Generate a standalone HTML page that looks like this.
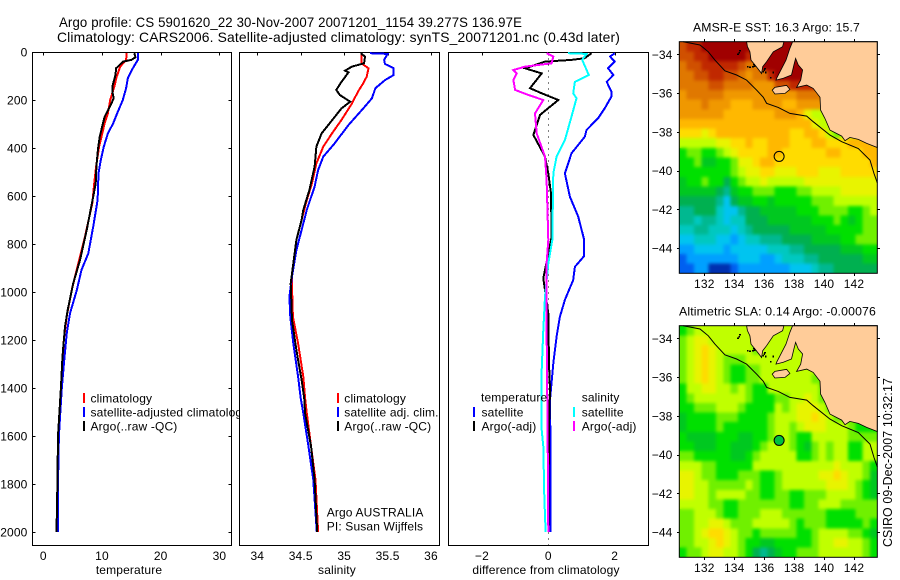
<!DOCTYPE html>
<html>
<head>
<meta charset="utf-8">
<title>Argo profile</title>
<style>
html,body{margin:0;padding:0;background:#fff;width:900px;height:580px;overflow:hidden}
svg{display:block;font-family:"Liberation Sans",sans-serif;font-size:12px;fill:#000;letter-spacing:0.15px}
.prof{fill:none;stroke-width:2;shape-rendering:crispEdges;stroke-linejoin:miter}
.cr{shape-rendering:crispEdges}
</style>
</head>
<body>
<svg id="fig" xmlns="http://www.w3.org/2000/svg" width="900" height="580" viewBox="0 0 900 580">
<defs>
<filter id="soften" x="-5%" y="-5%" width="110%" height="110%" color-interpolation-filters="sRGB">
<feGaussianBlur in="SourceGraphic" stdDeviation="1.6" result="b"/>
<feMerge><feMergeNode in="SourceGraphic"/><feMergeNode in="b"/></feMerge>
</filter>
</defs>
<rect x="0" y="0" width="900" height="580" fill="#fff"/>
<text x="59" y="27" font-size="14" textLength="463" lengthAdjust="spacingAndGlyphs">Argo profile: CS 5901620_22 30-Nov-2007 20071201_1154 39.277S 136.97E</text>
<text x="57" y="42" font-size="14" textLength="563" lengthAdjust="spacingAndGlyphs">Climatology: CARS2006. Satellite-adjusted climatology: synTS_20071201.nc (0.43d later)</text>
<g id="plots"></g>
<g id="maps"></g>
<text transform="translate(892,547) rotate(-90)" font-size="13" textLength="169" lengthAdjust="spacingAndGlyphs">CSIRO 09-Dec-2007 10:32:17</text>
</svg>
<script>
// ---- profile data: [depth, value] ----
var depthTicks = [0,200,400,600,800,1000,1200,1400,1600,1800,2000];
var tempTicks = [0,10,20,30];
var salTicks = [34,34.5,35,35.5,36];
var salTickLabels = ['34','34.5','35','35.5','36'];
var diffTicks = [-2,0,2];
var diffTickLabels = ['\u22122','0','2'];

var tempClim = [[5,14.2],[33,14.1],[61,13.1],[103,12.5],[144,12.1],[200,11.4],[255,11.0],[297,10.45],[339,10.05],[394,9.5],[478,9.0],[540,8.7],[630,8.35],[769,7.1],[881,5.96],[992,4.84],[1100,4.0],[1200,3.5],[1300,3.3],[1400,3.1],[1500,2.8],[1600,2.6],[1800,2.4],[2000,2.3]];
var tempSat = [[5,16.1],[33,16.1],[68,15.25],[110,14.4],[151,14.1],[200,13.55],[249,12.7],[297,11.9],[339,11.0],[394,10.3],[450,9.8],[505,9.4],[617,9.25],[728,8.5],[839,7.67],[908,6.5],[992,5.7],[1089,4.55],[1171,4.0],[1276,3.6],[1400,3.15],[1500,2.9],[1600,2.65],[1800,2.5],[2000,2.5]];
var tempArgo = [[5,15.5],[22,15.7],[33,15.0],[40,13.6],[68,12.4],[96,12.3],[144,11.75],[165,11.75],[193,12.0],[214,11.6],[270,10.45],[353,9.6],[408,9.3],[478,9.05],[547,8.92],[603,8.5],[742,7.4],[867,6.25],[964,5.1],[1075,4.15],[1144,3.7],[1228,3.4],[1276,3.25],[1400,3.0],[1600,2.5],[1800,2.4],[2000,2.25]];

var salClim = [[5,35.2],[47,35.2],[68,35.28],[103,35.26],[130,35.22],[165,35.16],[214,35.09],[283,34.97],[339,34.86],[394,34.76],[464,34.68],[547,34.63],[617,34.57],[700,34.51],[783,34.45],[936,34.40],[978,34.40],[1103,34.41],[1214,34.47],[1353,34.53],[1442,34.55],[1505,34.57],[1644,34.62],[1783,34.67],[2000,34.70]];
var salSat = [[5,35.3],[8,35.5],[33,35.46],[50,35.47],[68,35.57],[96,35.57],[117,35.47],[151,35.36],[193,35.32],[235,35.22],[304,35.05],[381,34.89],[436,34.76],[492,34.70],[561,34.66],[658,34.57],[700,34.54],[825,34.45],[936,34.40],[1019,34.37],[1103,34.38],[1214,34.415],[1353,34.47],[1442,34.50],[1505,34.53],[1644,34.59],[1783,34.645],[2000,34.685]];
var salArgo = [[5,35.19],[19,35.24],[47,35.23],[61,35.09],[78,35.01],[85,35.05],[124,34.97],[158,34.91],[179,34.95],[207,35.07],[235,34.97],[276,34.88],[339,34.74],[394,34.68],[478,34.66],[575,34.6],[658,34.53],[700,34.51],[783,34.45],[964,34.385],[1117,34.40],[1242,34.45],[1367,34.51],[1442,34.54],[1505,34.55],[1644,34.62],[1783,34.66],[2000,34.69]];

var diffTempSat = [[5,2.0],[19,1.86],[40,2.0],[68,1.8],[96,1.96],[124,1.76],[165,1.9],[186,1.9],[235,1.7],[276,1.5],[325,1.15],[353,1.1],[422,0.7],[506,0.5],[603,0.65],[686,0.9],[783,1.08],[850,1.08],[895,0.8],[950,0.75],[1033,0.5],[1103,0.35],[1186,0.25],[1297,0.15],[1450,0.05],[1575,0.06],[2000,0.06]];
var diffTempArgo = [[5,1.3],[26,1.1],[33,0.7],[40,-0.1],[68,-0.7],[89,-0.2],[151,-0.55],[172,-0.2],[200,0.3],[262,-0.25],[346,-0.45],[436,-0.1],[506,0],[589,0.08],[769,0.1],[783,0.08],[943,-0.15],[1089,0],[1297,0.02],[1408,0.05],[1575,0.02],[2000,0]];
var diffSalSat = [[5,0.6],[8,1.15],[33,1.02],[96,1.22],[124,0.8],[172,0.75],[193,0.85],[269,0.7],[367,0.5],[436,0.25],[506,0.15],[783,0.12],[881,0],[1020,-0.1],[1159,-0.15],[1325,-0.2],[1575,-0.2],[1644,-0.15],[1853,-0.12],[2000,-0.08]];
var diffSalArgo = [[5,-0.05],[19,0.15],[47,0.1],[61,-0.7],[75,-1.05],[89,-0.95],[117,-1.05],[158,-1.0],[179,-0.6],[200,-0.15],[256,-0.4],[339,-0.35],[436,-0.1],[533,-0.05],[783,0],[881,-0.05],[1159,-0.05],[1575,-0.02],[2000,0]];

// ---- map data ----
var lonTicks = [132,134,136,138,140,142];
var latTicks = [-34,-36,-38,-40,-42,-44];
var floatLon = 137;
var floatLat = -39.27;

var sstLevels = [
[16,17,17,18,18,18,18,18,18,18,18,18,18,18,18,18,18,18,18,18,18,18,18,18,18,18,18],
[16,16,17,17,18,18,18,18,18,17,18,18,18,18,18,18,18,18,18,18,18,18,18,18,18,18,18],
[15,16,16,17,17,17,17,17,16,15,15,18,18,18,18,18,18,18,18,18,18,18,18,18,18,18,18],
[15,15,16,16,17,17,16,16,15,14,15,15,17,18,18,18,18,18,18,18,18,18,18,18,18,18,18],
[15,15,15,15,16,16,15,15,15,15,14,14,14,16,16,17,17,17,17,17,17,17,17,17,17,17,17],
[14,15,15,15,15,15,14,14,14,14,14,14,14,14,14,14,15,15,15,15,15,15,15,15,15,15,15],
[14,14,14,15,14,14,14,13,13,13,14,14,14,14,13,13,14,14,14,14,14,14,14,14,14,14,14],
[14,14,14,14,14,14,13,13,13,13,13,13,13,14,14,14,13,11,10,10,10,10,10,10,10,10,10],
[13,13,13,13,13,13,13,13,13,13,13,13,13,13,13,13,13,13,11,10,10,10,10,10,10,10,10],
[12,12,12,11,12,13,13,13,13,13,13,13,13,13,13,12,12,13,13,12,10,9,10,10,10,10,10],
[10,10,10,10,10,11,11,12,12,13,12,12,13,13,13,12,12,12,13,13,12,12,12,13,13,13,13],
[8,9,9,8,8,9,10,11,12,12,12,12,13,13,12,12,12,12,12,12,13,13,12,12,12,13,13],
[8,8,9,7,7,8,8,9,11,11,12,13,13,12,12,12,12,12,12,12,12,12,12,12,12,12,13],
[8,8,8,8,8,8,8,9,10,11,11,12,12,11,11,11,12,12,12,11,11,11,12,12,12,12,12],
[7,8,8,9,8,8,6,8,9,10,10,11,10,10,10,10,10,11,11,11,11,11,11,11,11,11,11],
[7,7,7,7,7,6,5,7,8,8,9,9,9,8,8,8,9,9,10,10,10,10,11,11,11,11,11],
[6,6,6,6,6,5,3,6,7,7,8,8,7,8,8,8,8,8,9,9,9,10,10,10,10,10,10],
[5,5,6,6,6,4,3,3,5,6,6,7,7,7,7,7,8,8,8,9,9,9,9,8,8,9,10],
[5,5,4,5,5,4,3,4,4,6,6,6,7,7,7,7,7,7,8,8,8,9,8,7,8,9,9],
[4,4,5,5,4,4,4,3,4,5,6,6,6,6,6,7,7,7,7,7,8,8,8,8,8,9,9],
[3,3,4,4,4,3,3,2,3,4,4,5,5,5,6,6,6,6,7,7,7,7,8,8,9,9,9],
[2,2,3,3,3,3,2,3,3,3,3,3,4,4,4,5,5,6,6,6,6,6,7,7,7,8,8],
[1,2,2,2,2,2,2,2,3,3,3,2,2,3,4,4,4,5,5,6,6,6,6,6,6,7,7],
[1,1,2,2,0,0,0,1,2,2,2,2,2,2,2,3,3,3,4,5,5,6,6,6,6,6,6]
];
var slaLevels = [
[8,9,10,10,10,10,10,10,10,10,10,10,10,10,10,10,10,10,10,10,10,10,10,10,10,10,10],
[9,10,11,11,10,10,10,10,10,10,10,10,10,10,10,10,10,10,10,10,10,10,10,10,10,10,10],
[9,10,11,12,11,10,10,10,10,10,9,10,10,10,10,10,10,10,10,10,10,10,10,10,10,10,10],
[9,10,11,12,11,10,9,9,9,10,10,10,10,10,10,10,10,10,10,10,10,10,10,10,10,10,10],
[9,10,11,12,11,10,9,8,8,9,9,10,10,10,10,10,10,10,10,10,10,10,10,10,10,10,10],
[9,10,11,12,11,10,9,8,8,9,9,10,10,10,10,10,10,10,9,9,9,9,9,9,9,9,9],
[8,10,10,11,11,10,10,9,10,9,8,8,10,10,10,10,10,10,10,9,9,9,9,9,9,9,9],
[8,9,10,10,10,10,10,10,10,9,8,8,8,9,9,10,10,11,10,9,9,9,9,9,9,9,9],
[8,8,9,9,9,10,10,10,9,8,8,8,8,10,9,10,11,11,11,10,9,9,9,9,9,9,9],
[7,8,8,8,8,9,9,9,8,8,8,8,9,10,10,10,11,11,12,11,10,9,9,9,8,8,8],
[7,8,8,8,8,9,8,8,8,8,8,8,9,10,10,9,10,11,11,11,10,10,10,9,8,8,8],
[8,7,7,7,7,8,8,8,7,7,8,8,9,10,10,9,8,8,10,10,10,10,10,9,9,9,9],
[8,8,7,7,7,8,8,7,7,7,8,9,10,10,10,9,8,7,9,10,9,10,10,8,8,10,10],
[9,9,8,8,8,8,8,7,7,8,9,10,10,10,10,10,8,8,9,10,9,10,10,8,8,10,10],
[10,10,10,9,9,8,8,8,8,8,10,10,10,10,10,10,10,10,10,10,10,11,10,10,10,9,8],
[11,11,10,9,9,8,8,8,9,9,9,8,8,9,10,10,10,10,10,11,11,12,11,10,10,9,7],
[11,11,10,10,9,9,9,9,9,10,9,8,8,9,10,10,10,10,10,10,11,11,11,10,9,8,7],
[11,11,10,10,9,10,10,10,10,9,9,8,8,9,9,8,8,9,9,9,10,10,10,10,9,8,7],
[10,10,10,10,9,9,8,8,9,9,9,9,9,9,9,8,8,9,9,10,10,10,9,9,9,9,9],
[9,9,10,10,10,9,8,8,9,9,9,10,10,10,9,9,9,9,9,9,8,8,8,8,9,9,9],
[9,9,10,10,11,11,10,9,9,9,10,10,10,10,10,9,8,9,9,9,8,8,8,8,8,9,8],
[9,9,10,11,12,12,11,10,9,9,8,9,9,9,9,9,8,8,9,10,10,10,10,9,9,8,7],
[9,9,10,10,11,12,11,10,9,8,8,7,7,8,8,8,8,8,9,10,10,11,11,10,10,9,8],
[8,9,9,10,11,11,10,10,9,8,6,5,6,7,8,8,9,9,9,10,10,10,10,10,10,9,8]
];
var landWest = [[134.83,-33.35],[134.88,-33.6],[135.05,-33.87],[135.12,-34.30],[135.45,-34.61],[135.83,-34.99],[135.90,-34.64],[136.16,-34.38],[136.61,-33.87],[137.23,-33.61],[137.32,-33.35]];
var landEast = [[137.90,-33.35],[137.72,-33.69],[137.46,-34.30],[137.17,-34.73],[136.83,-35.24],[136.79,-35.33],[137.28,-35.24],[137.83,-35.07],[137.99,-34.55],[138.10,-34.21],[138.28,-34.55],[138.57,-34.81],[138.44,-35.33],[138.17,-35.71],[138.84,-35.59],[139.28,-35.76],[139.73,-36.22],[139.77,-36.88],[140.06,-37.31],[140.40,-37.91],[141.18,-38.22],[141.40,-38.46],[141.73,-38.29],[142.29,-38.39],[142.85,-38.60],[143.56,-38.81],[143.56,-33.35]];
var kangarooIsland = [[136.54,-35.85],[136.72,-35.71],[137.50,-35.60],[137.72,-35.81],[137.39,-36.02],[136.72,-36.05]];
var isobath = [[130.60,-33.35],[131.71,-33.52],[132.27,-33.87],[132.71,-34.30],[133.38,-34.85],[134.16,-35.07],[134.83,-35.33],[135.50,-35.85],[135.94,-36.22],[136.16,-36.53],[136.94,-36.74],[137.72,-37.05],[138.84,-37.19],[139.28,-37.48],[140.40,-38.17],[141.18,-38.51],[142.29,-38.86],[143.07,-39.46],[143.34,-40.15],[143.56,-40.63]];
var islets = [[134.27,-33.87],[134.33,-33.78],[134.2,-33.95],[135.27,-34.5],[135.33,-34.56],[135.2,-34.6],[135.0,-34.62],[134.85,-34.6],[135.94,-34.78],[136.0,-34.7],[135.88,-34.85],[136.05,-34.9],[136.4,-35.16],[136.55,-34.9]];

// ---- drawing ----
var NS = 'http://www.w3.org/2000/svg';
var plots = document.getElementById('plots');
var maps = document.getElementById('maps');
var mapPalette = ['#0030b0','#0060f0','#00a0ff','#00c4f0','#00c8c0','#00b890','#00b050','#00c820','#00e000','#70f000','#c0ff00','#e8f400','#ffdc00','#ffb800','#f09800','#e07800','#d05000','#c02800','#a00000'];

function add(parent, tag, attrs, name) {
  var el = document.createElementNS(NS, tag);
  for (var k in attrs) el.setAttribute(k, attrs[k]);
  
  
  parent.appendChild(el);
  return el;
}
function label(parent, x, y, str, anchor, name) {
  var t = add(parent, 'text', {x:x, y:y, 'text-anchor':anchor||'start'}, name);
  t.textContent = str;
  return t;
}

var depthTop = 52, depthScale = 0.24;
function yDepth(d) { return depthTop + depthScale * d; }
function xTemp(v) { return 43.3 + 5.87 * v; }
function xSal(v) { return 257.3 + 86.85 * (v - 34); }
function xDiff(v) { return 548.3 + 33.2 * v; }

function drawAxes(name, left, right, xFn, ticks, tickLabels, xTitle, titleX, showDepthLabels) {
  var top = 52.5, bottom = 545.5;
  add(plots, 'rect', {x:left, y:top, width:right-left, height:bottom-top, fill:'#fff', stroke:'#000', 'stroke-width':1, 'class':'cr'}, name + '-frame');
  ticks.forEach(function (t, i) {
    var x = Math.round(xFn(t)) + 0.5;
    add(plots, 'line', {x1:x, x2:x, y1:top, y2:top+3, stroke:'#000', 'class':'cr'}, name + '-x-tick');
    label(plots, xFn(t), 560, tickLabels[i], 'middle', name + '-x-tick-label');
  });
  if (showDepthLabels) {
    depthTicks.forEach(function (d) {
      var y = Math.round(yDepth(d)) + 0.5;
      add(plots, 'line', {x1:left, x2:left+3, y1:y, y2:y, stroke:'#000', 'class':'cr'}, 'depth-tick-left');
      add(plots, 'line', {x1:right-3, x2:right, y1:y, y2:y, stroke:'#000', 'class':'cr'}, 'depth-tick-right');
      label(plots, 27.5, yDepth(d) + 4.5, String(d), 'end', 'depth-tick-label');
    });
  }
  label(plots, titleX, 574, xTitle, 'middle', name + '-x-axis-title');
}
function drawProfile(data, xFn, color, name) {
  var pts = data.map(function (p) { return xFn(p[1]).toFixed(1) + ',' + yDepth(p[0]).toFixed(1); }).join(' ');
  add(plots, 'polyline', {points:pts, stroke:color, 'class':'prof'}, name);
}
function legendEntry(markX, textX, y, color, str, name) {
  if (color) add(plots, 'rect', {x:markX, y:y-9.5, width:2, height:10, fill:color, 'class':'cr'}, name + '-marker');
  label(plots, textX, y, str, 'start', name + '-label');
}

// temperature panel
drawAxes('temperature-panel', 32.5, 231.5, xTemp, tempTicks, tempTicks.map(String), 'temperature', 129, true);
drawProfile(tempClim, xTemp, '#ff0000', 'temperature-climatology-line');
drawProfile(tempSat, xTemp, '#0000ff', 'temperature-satellite-line');
drawProfile(tempArgo, xTemp, '#000000', 'temperature-argo-line');
legendEntry(83, 90.5, 402.5, '#ff0000', 'climatology', 'temperature-legend-climatology');
legendEntry(83, 90.5, 416.5, '#0000ff', 'satellite-adjusted climatology', 'temperature-legend-satellite');
legendEntry(83, 90.5, 430.5, '#000000', 'Argo(..raw -QC)', 'temperature-legend-argo');

// salinity panel (its white frame clips the previous panel's legend)
drawAxes('salinity-panel', 239.5, 439.5, xSal, salTicks, salTickLabels, 'salinity', 337, false);
drawProfile(salClim, xSal, '#ff0000', 'salinity-climatology-line');
drawProfile(salSat, xSal, '#0000ff', 'salinity-satellite-line');
drawProfile(salArgo, xSal, '#000000', 'salinity-argo-line');
legendEntry(337, 344.3, 402.5, '#ff0000', 'climatology', 'salinity-legend-climatology');
legendEntry(337, 344.3, 416.5, '#0000ff', 'satellite adj. clim.', 'salinity-legend-satellite');
legendEntry(337, 344.3, 430.5, '#000000', 'Argo(..raw -QC)', 'salinity-legend-argo');
label(plots, 326.7, 516.7, 'Argo AUSTRALIA', 'start', 'float-operator-label');
label(plots, 326.7, 530.7, 'PI: Susan Wijffels', 'start', 'principal-investigator-label');

// difference panel
drawAxes('difference-panel', 448.5, 648.5, xDiff, diffTicks, diffTickLabels, 'difference from climatology', 546, false);
add(plots, 'line', {x1:xDiff(0), x2:xDiff(0), y1:52.5, y2:545.5, stroke:'#000', 'stroke-dasharray':'1 5', 'class':'cr'}, 'zero-reference-line');
drawProfile(diffTempSat, xDiff, '#0000ff', 'difference-temperature-satellite-line');
drawProfile(diffTempArgo, xDiff, '#000000', 'difference-temperature-argo-line');
drawProfile(diffSalSat, xDiff, '#00ffff', 'difference-salinity-satellite-line');
drawProfile(diffSalArgo, xDiff, '#ff00ff', 'difference-salinity-argo-line');
label(plots, 481, 401.7, 'temperature', 'start', 'legend-heading-temperature');
label(plots, 581.7, 401.7, 'salinity', 'start', 'legend-heading-salinity');
legendEntry(473, 481.5, 416.5, '#0000ff', 'satellite', 'difference-legend-temperature-satellite');
legendEntry(473, 481.5, 430.5, '#000000', 'Argo(-adj)', 'difference-legend-temperature-argo');
legendEntry(573, 581.7, 416.5, '#00ffff', 'satellite', 'difference-legend-salinity-satellite');
legendEntry(573, 581.7, 430.5, '#ff00ff', 'Argo(-adj)', 'difference-legend-salinity-argo');

// maps
var mapLeft = 679.3, mapWidth = 198, mapHeight = 231.6;
var lonMin = 130.33, lonMax = 143.56, latTop = -33.35, latBottom = -45.3;
function drawMap(name, top, levels, titleStr, titleX, titleY, titleLen, circleFill) {
  function xLon(v) { return mapLeft + (v - lonMin) / (lonMax - lonMin) * mapWidth; }
  function yLat(v) { return top + (latTop - v) / (latTop - latBottom) * mapHeight; }
  function ptStr(list) { return list.map(function (p) { return xLon(p[0]).toFixed(1) + ',' + yLat(p[1]).toFixed(1); }).join(' '); }

  var g = add(maps, 'g', {}, name);
  var defs = document.querySelector('#fig defs');
  var clip = document.createElementNS(NS, 'clipPath');
  clip.setAttribute('id', name + '-clip');
  var clipRect = document.createElementNS(NS, 'rect');
  clipRect.setAttribute('x', mapLeft);
  clipRect.setAttribute('y', top);
  clipRect.setAttribute('width', mapWidth);
  clipRect.setAttribute('height', mapHeight);
  clip.appendChild(clipRect);
  defs.appendChild(clip);

  var clipper = add(g, 'g', {'clip-path':'url(#' + name + '-clip)'}, name + '-clip-area');
  var cells = add(clipper, 'g', {filter:'url(#soften)'}, name + '-heatmap');
  var nRows = levels.length, nCols = levels[0].length;
  var cw = mapWidth / nCols, ch = mapHeight / nRows;
  levels.forEach(function (row, r) {
    row.forEach(function (v, c) {
      var lv = Math.max(0, Math.min(mapPalette.length - 1, v));
      var rx = mapLeft + c * cw, ry = top + r * ch;
      add(cells, 'rect', {x:rx.toFixed(1), y:ry.toFixed(1), width:(cw + 0.6).toFixed(1), height:(ch + 0.6).toFixed(1), fill:mapPalette[lv], 'class':'cr'}, 'map-cell');
    });
  });
  add(g, 'polygon', {points:ptStr(landWest), fill:'#ffcc99', stroke:'#000', 'stroke-width':0.8}, name + '-land-west');
  add(g, 'polygon', {points:ptStr(landEast), fill:'#ffcc99', stroke:'#000', 'stroke-width':0.8}, name + '-land-east');
  add(g, 'polygon', {points:ptStr(kangarooIsland), fill:'#ffcc99', stroke:'#000', 'stroke-width':0.8}, name + '-kangaroo-island');
  add(g, 'polyline', {points:ptStr(isobath), fill:'none', stroke:'#000', 'stroke-width':1}, name + '-isobath');
  islets.forEach(function (p) {
    add(g, 'rect', {x:xLon(p[0]), y:yLat(p[1]), width:1.6, height:1.6, fill:'#000', 'class':'cr'}, name + '-islet');
  });
  add(g, 'circle', {cx:xLon(floatLon), cy:yLat(floatLat), r:5, fill:circleFill, stroke:'#000', 'stroke-width':1}, name + '-float-marker');
  add(g, 'rect', {x:mapLeft, y:top, width:mapWidth, height:mapHeight, fill:'none', stroke:'#000', 'stroke-width':1}, name + '-frame');
  lonTicks.forEach(function (t) {
    var x = Math.round(xLon(t)) + 0.5;
    add(g, 'line', {x1:x, x2:x, y1:top-2.5, y2:top, stroke:'#000', 'class':'cr'}, name + '-lon-tick-top');
    add(g, 'line', {x1:x, x2:x, y1:top+mapHeight, y2:top+mapHeight+2.5, stroke:'#000', 'class':'cr'}, name + '-lon-tick-bottom');
    label(g, xLon(t), top + mapHeight + 14.7, String(t), 'middle', name + '-lon-tick-label');
  });
  latTicks.forEach(function (t) {
    var y = Math.round(yLat(t)) + 0.5;
    add(g, 'line', {x1:mapLeft-2.5, x2:mapLeft, y1:y, y2:y, stroke:'#000', 'class':'cr'}, name + '-lat-tick-left');
    add(g, 'line', {x1:mapLeft+mapWidth, x2:mapLeft+mapWidth+2.5, y1:y, y2:y, stroke:'#000', 'class':'cr'}, name + '-lat-tick-right');
    label(g, 672.5, yLat(t) + 4.5, '\u2212' + Math.abs(t), 'end', name + '-lat-tick-label');
  });
  var ttl = add(g, 'text', {x:titleX, y:titleY, textLength:titleLen, lengthAdjust:'spacingAndGlyphs'}, name + '-title');
  ttl.textContent = titleStr;
}
drawMap('sst-map', 41.7, sstLevels, 'AMSR-E SST: 16.3 Argo: 15.7', 693, 31.7, 167, 'none');
drawMap('sla-map', 325.7, slaLevels, 'Altimetric SLA: 0.14 Argo: -0.00076', 679, 315.7, 197, '#00c040');
</script>
</body>
</html>
